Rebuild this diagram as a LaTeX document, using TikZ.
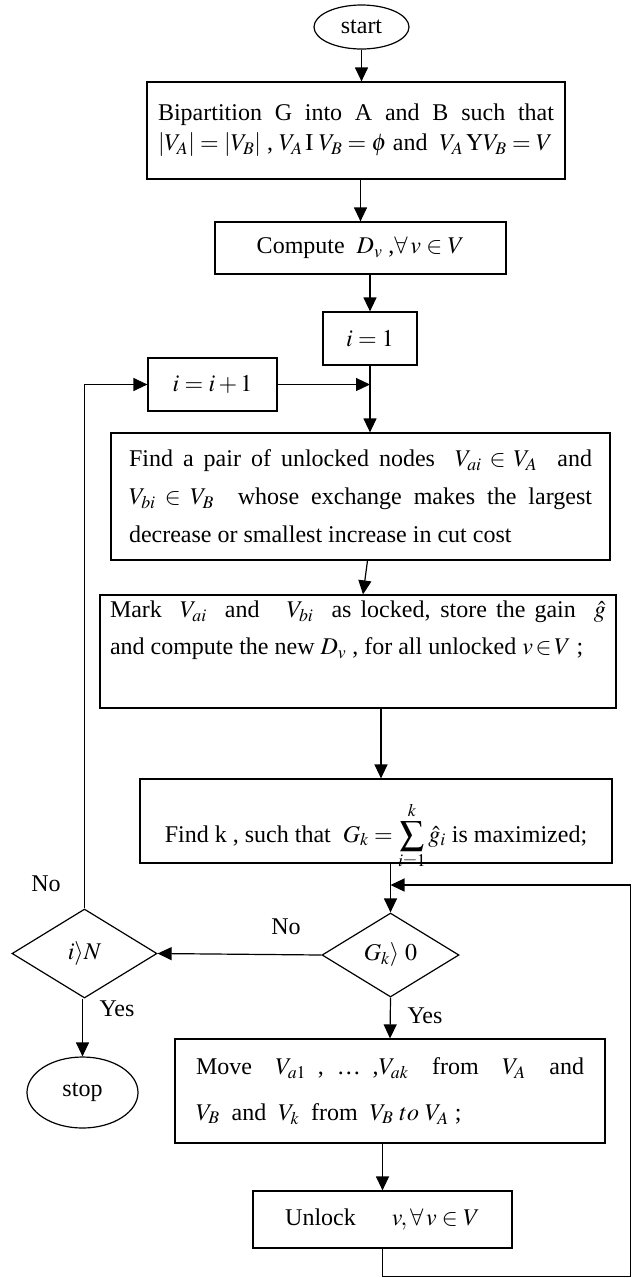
\documentclass[tikz,border=0pt]{standalone}
\usepackage{mathptmx}
\usepackage[no-math]{fontspec}
\setmainfont{Liberation Serif}
\usetikzlibrary{%
  arrows.meta,%
  shapes.geometric,% wg. ellipse, diamond
  positioning%
}

\begin{document}
\begin{tikzpicture}
  [
  x=1pt, y=-1pt,
  font=\fontsize{24}{28}\selectfont, line width=1.2pt, draw=black,
  >={Triangle[length=14pt,width=13pt]},
  procbox/.style={rectangle, inner sep=0pt, draw=black},
  termnode/.style={ellipse, inner sep=0pt, draw=black},
  decnode/.style={diamond, aspect=1.6, inner sep=0pt, draw=black},
  lbl/.style={inner sep=0pt},
  ]
  \useasboundingbox (0,0) rectangle (632,1278);

  \node[termnode, minimum width=95pt, minimum height=44pt] (start) at (361.5,27) {start};

  \node[procbox, minimum width=418pt, minimum height=97pt, text width=396pt, align=justify,
    font=\fontsize{24}{30}\selectfont] (bip) at (356,130.5)
    {Bipartition G into A and B such that\linebreak
    $\left|V_A\right|=\left|V_B\right|$ , $V_A\,\mathrm{I}\;V_B=\phi$ and\ \ $V_A\,\mathrm{Y}V_B=V$};

  \node[procbox, minimum width=291pt, minimum height=52pt] (comp) at (360.5,248)
    {Compute\ \ $D_v$ ,$\forall\,v\in V$};

  \node[procbox, minimum width=94pt, minimum height=53pt] (init) at (370,338.5) {$i=1$};
  \node[procbox, minimum width=129pt, minimum height=53pt] (incr) at (212.5,384.5) {$i=i+1$};

  \node[procbox, minimum width=499pt, minimum height=127pt, text width=463pt, align=justify,
    font=\fontsize{24}{38}\selectfont] (pair) at (360.5,496.5)
    {Find a pair of unlocked nodes\ \ $V_{ai}\in V_A$\ \ and\linebreak
    $V_{bi}\in V_B$\ \ whose exchange makes the largest\linebreak
    decrease or smallest increase in cut cost};

  \node[procbox, minimum width=516pt, minimum height=113pt, text width=496pt, align=justify,
    text depth=84pt, font=\fontsize{24}{37}\selectfont] (mark) at (358,651.5)
    {Mark\ \ $V_{ai}$\ \ and\ \ \ $V_{bi}$\ \ as locked, store the gain\ \ $\hat{g}$\linebreak
    and compute the new\ $D_v$ , for all unlocked\ $v\!\in\!V$ ;};

  \node[procbox, minimum width=472pt, minimum height=84pt, text height=42pt, text depth=0pt]
    (findk) at (376,821)
    {Find k , such that\ \ $\displaystyle G_k = \sum_{i=1}^{k}\hat{g}_i$ is maximized;};

  \node[decnode, minimum width=137pt, minimum height=84pt] (dcheck) at (390.5,955) {$G_k\rangle\ 0$};
  \node[decnode, minimum width=145pt, minimum height=89pt] (dn) at (84.5,953.5) {$i\rangle N$};

  \node[termnode, minimum width=111pt, minimum height=71pt] (stop) at (82.5,1092.5) {stop};

  \node[procbox, minimum width=430pt, minimum height=104pt, text width=388pt, align=justify,
    font=\fontsize{24}{46}\selectfont] (move) at (390,1091)
    {Move\ \ $V_{a1}$ , \ldots\ ,$V_{ak}$\ \ from\ \ $V_A$\ \ and\linebreak
    $V_B$\ \ and\ \ $V_k$\ \ from\ \ $V_B\ to\ V_A$ ;};

  \node[procbox, minimum width=259pt, minimum height=57pt] (unlock) at (382.5,1219.5)
    {Unlock\quad\ \ $v,\forall\,v\in V$};

  \node[lbl] (nodn) at (46,884) {No};
  \node[lbl] (nodc) at (286,927) {No};
  \node[lbl] (yesdn) at (117,1009) {Yes};
  \node[lbl] (yesdc) at (425,1016) {Yes};

  \coordinate (loopbr) at (630.8,1276.8);
  \coordinate (looptr) at (630.8,885);

  \draw[->] (start) -- (start |- bip.north);
  \draw[->] (bip.south -| comp.north) -- (comp.north);
  \draw[->] (comp.south -| init.north) -- (init.north);
  \draw[->] (init.south) -- (init.south |- pair.north);
  \draw[->] (incr.east) -- (incr.east -| init.south);
  \draw[->] ([xshift=7pt]pair.south) -- ([xshift=5pt]mark.north);
  \draw[->] ([xshift=5pt]findk.north |- mark.south) -- ([xshift=5pt]findk.north);
  \draw[->] (dcheck.north |- findk.south) -- (dcheck.north);
  \draw[->] (dcheck.west) -- (dn.east);
  \draw[->] (stop.north |- dn.south) -- (stop.north);
  \draw[->] (dn.north) |- (incr.west);
  \draw[->] (dcheck.south) -- (move.north);
  \draw[->] (move.south -| unlock.north) -- (unlock.north);
  \draw[->] (unlock.south) |- (loopbr) -- (looptr) -- (looptr -| dcheck.north);

\end{tikzpicture}
\end{document}
